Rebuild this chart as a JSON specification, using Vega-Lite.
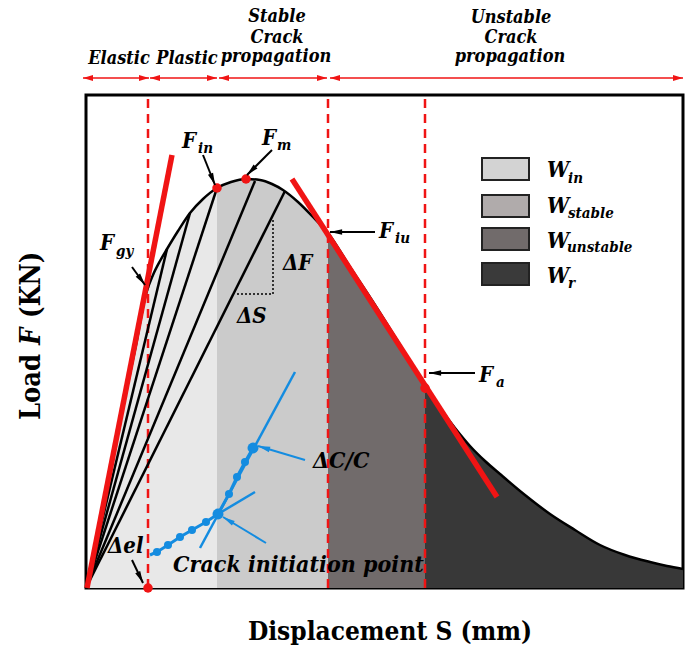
{
"$schema":"https://vega.github.io/schema/vega-lite/v6.json",
"width":597,"height":493,
"autosize":{"type":"none"},
"padding":{"left":86,"top":95,"right":6,"bottom":61},
"background":"#ffffff",
"config":{"view":{"stroke":"#000000","strokeWidth":3},"text":{"font":"DejaVu Serif Condensed"}},
"datasets":{
"curve":[{"s":0,"f":0},{"s":18,"f":88},{"s":36,"f":176},{"s":50,"f":243},{"s":60,"f":294},{"s":67,"f":313},{"s":74,"f":327},{"s":81,"f":339},{"s":92,"f":357},{"s":104,"f":375},{"s":117,"f":389},{"s":131,"f":400},{"s":145,"f":406},{"s":160,"f":409},{"s":174,"f":408},{"s":186,"f":404},{"s":197,"f":398},{"s":212,"f":386},{"s":227,"f":371},{"s":242,"f":355},{"s":264,"f":321},{"s":289,"f":283},{"s":314,"f":243},{"s":339,"f":202},{"s":354,"f":180},{"s":369,"f":160},{"s":384,"f":142},{"s":399,"f":127},{"s":414,"f":114},{"s":439,"f":93},{"s":464,"f":74},{"s":489,"f":58},{"s":514,"f":43},{"s":539,"f":33},{"s":564,"f":26},{"s":581,"f":22},{"s":597,"f":19}],
"unload":[{"s":0,"f":0,"s2":81,"f2":339},{"s":0,"f":0,"s2":104,"f2":375},{"s":0,"f":0,"s2":131,"f2":400},{"s":0,"f":0,"s2":169,"f2":407},{"s":0,"f":0,"s2":199,"f2":397}],
"tangents":[{"s":1,"f":0,"s2":86,"f2":433},{"s":206,"f":409,"s2":411,"f2":91}],
"bounds":[{"s":62,"f":0,"s2":62,"f2":493},{"s":242,"f":0,"s2":242,"f2":493},{"s":339,"f":0,"s2":339,"f2":493}],
"guides":[{"s":187,"f":368,"s2":187,"f2":294},{"s":151,"f":294,"s2":187,"f2":294}],
"cracklines":[{"s":114,"f":40,"s2":209,"f2":216},{"s":132,"f":74,"s2":169,"f2":96}],
"crackpath":[{"s":64,"f":33},{"s":71,"f":36},{"s":82,"f":43},{"s":94,"f":51},{"s":106,"f":58},{"s":120,"f":66},{"s":132,"f":74},{"s":143,"f":94},{"s":151,"f":111},{"s":159,"f":126},{"s":167,"f":140}],
"crackdots":[{"s":71,"f":36,"kind":"step"},{"s":82,"f":43,"kind":"step"},{"s":94,"f":51,"kind":"step"},{"s":106,"f":58,"kind":"step"},{"s":120,"f":66,"kind":"step"},{"s":132,"f":74,"kind":"key"},{"s":143,"f":94,"kind":"step"},{"s":151,"f":111,"kind":"step"},{"s":159,"f":126,"kind":"step"},{"s":167,"f":140,"kind":"key"}],
"reddots":[{"s":131,"f":400},{"s":160,"f":409},{"s":339,"f":200},{"s":62,"f":0}],
"arrows":[{"s":117,"f":433,"s2":129,"f2":403,"ink":"black"},{"s":186,"f":438,"s2":161,"f2":413,"ink":"black"},{"s":46,"f":321,"s2":59,"f2":303,"ink":"black"},{"s":289,"f":356,"s2":244,"f2":356,"ink":"black"},{"s":389,"f":215,"s2":343,"f2":215,"ink":"black"},{"s":46,"f":28,"s2":57,"f2":5,"ink":"black"},{"s":219,"f":128,"s2":172,"f2":142,"ink":"blue"},{"s":180,"f":45,"s2":137,"f2":71,"ink":"blue"}],
"heads":[{"s":126.8,"f":408.6,"heading":158,"ink":"black"},{"s":165.2,"f":417.2,"heading":225,"ink":"black"},{"s":55.5,"f":307.9,"heading":144,"ink":"black"},{"s":250,"f":356,"heading":270,"ink":"black"},{"s":349,"f":215,"heading":270,"ink":"black"},{"s":54.4,"f":10.4,"heading":154,"ink":"black"},{"s":177.8,"f":140.3,"heading":287,"ink":"blue"},{"s":142.1,"f":67.9,"heading":301,"ink":"blue"}],
"phaseArrows":[{"s":-3,"f":510,"s2":63,"f2":510},{"s":64,"f":510,"s2":131,"f2":510},{"s":133,"f":510,"s2":241,"f2":510},{"s":244,"f":510,"s2":597,"f2":510}],
"phaseHeads":[{"s":2,"f":510,"heading":270},{"s":58,"f":510,"heading":90},{"s":69,"f":510,"heading":270},{"s":126,"f":510,"heading":90},{"s":138,"f":510,"heading":270},{"s":236,"f":510,"heading":90},{"s":249,"f":510,"heading":270},{"s":592,"f":510,"heading":90}],
"phaseText":[{"t":"Elastic","s":33,"f":524},{"t":"Plastic","s":101,"f":524},{"t":"Stable","s":191,"f":566},{"t":"Crack","s":191,"f":545},{"t":"propagation","s":190,"f":526},{"t":"Unstable","s":425,"f":565},{"t":"Crack","s":425,"f":545},{"t":"propagation","s":424,"f":526}],
"bigLabels":[{"t":"F","s":96,"f":440},{"t":"F","s":176,"f":443},{"t":"F","s":14,"f":338},{"t":"F","s":293,"f":350},{"t":"F","s":393,"f":206},{"t":"ΔF","s":197,"f":318},{"t":"ΔS","s":151,"f":265},{"t":"Δel","s":22,"f":35},{"t":"W","s":461,"f":411},{"t":"W","s":461,"f":375},{"t":"W","s":461,"f":340},{"t":"W","s":461,"f":305}],
"subLabels":[{"t":"in","s":112,"f":435},{"t":"m","s":191,"f":438},{"t":"gy","s":30,"f":332},{"t":"iu","s":309,"f":345},{"t":"a","s":410,"f":201},{"t":"in","s":482,"f":405},{"t":"stable","s":482,"f":370},{"t":"unstable","s":481,"f":336},{"t":"r","s":482,"f":300}],
"notes":[{"t":"ΔC/C","s":227,"f":120},{"t":"Crack initiation point","s":87,"f":16}],
"legendBoxes":[{"s":396,"s2":443,"f":408,"f2":430,"zone":"in"},{"s":396,"s2":443,"f":371,"f2":393,"zone":"stable"},{"s":396,"s2":443,"f":338,"f2":360,"zone":"unstable"},{"s":396,"s2":443,"f":303,"f2":325,"zone":"r"}],
"xTitle":[{"t":"Displacement S (mm)","s":304,"f":-52}],
"yTitlePlain":[{"t":"Load","s":-54,"f":168},{"t":"(KN)","s":-54,"f":270}],
"yTitleItalic":[{"t":"F","s":-54,"f":243}]
},
"encoding":{
"x":{"field":"s","type":"quantitative","scale":{"domain":[0,597],"nice":false,"zero":false},"axis":null},
"y":{"field":"f","type":"quantitative","scale":{"domain":[0,493],"nice":false,"zero":false},"axis":null}
},
"layer":[
{"data":{"name":"curve"},"transform":[{"filter":"datum.s <= 131"}],"mark":{"type":"area","interpolate":"monotone","color":"#e8e8e8"}},
{"data":{"name":"curve"},"transform":[{"filter":"datum.s >= 131 && datum.s <= 242"}],"mark":{"type":"area","interpolate":"monotone","color":"#cbcbcb"}},
{"data":{"name":"curve"},"transform":[{"filter":"datum.s >= 242 && datum.s <= 339"}],"mark":{"type":"area","interpolate":"monotone","color":"#716b6b"}},
{"data":{"name":"curve"},"transform":[{"filter":"datum.s >= 339"}],"mark":{"type":"area","interpolate":"monotone","color":"#383838"}},
{"data":{"name":"bounds"},"mark":{"type":"rule","color":"#f01414","strokeWidth":2.5,"strokeDash":[9,6]},"encoding":{"x2":{"field":"s2"},"y2":{"field":"f2"}}},
{"data":{"name":"unload"},"mark":{"type":"rule","color":"#000000","strokeWidth":2.5},"encoding":{"x2":{"field":"s2"},"y2":{"field":"f2"}}},
{"data":{"name":"curve"},"mark":{"type":"line","interpolate":"monotone","color":"#000000","strokeWidth":2.5}},
{"data":{"name":"guides"},"mark":{"type":"rule","color":"#000000","strokeWidth":1.5,"strokeDash":[2,2]},"encoding":{"x2":{"field":"s2"},"y2":{"field":"f2"}}},
{"data":{"name":"tangents"},"mark":{"type":"rule","color":"#f01414","strokeWidth":5.5},"encoding":{"x2":{"field":"s2"},"y2":{"field":"f2"}}},
{"data":{"name":"cracklines"},"mark":{"type":"rule","color":"#148ce0","strokeWidth":2.5},"encoding":{"x2":{"field":"s2"},"y2":{"field":"f2"}}},
{"data":{"name":"crackpath"},"mark":{"type":"line","color":"#148ce0","strokeWidth":3}},
{"data":{"name":"crackdots"},"mark":{"type":"point","filled":true,"color":"#148ce0","opacity":1},"encoding":{"size":{"field":"kind","type":"nominal","scale":{"domain":["step","key"],"range":[65,120]},"legend":null}}},
{"data":{"name":"reddots"},"mark":{"type":"point","filled":true,"color":"#f01414","size":90,"opacity":1}},
{"data":{"name":"arrows"},"mark":{"type":"rule","strokeWidth":2},"encoding":{"x2":{"field":"s2"},"y2":{"field":"f2"},"color":{"field":"ink","type":"nominal","scale":{"domain":["black","blue"],"range":["#000000","#148ce0"]},"legend":null}}},
{"data":{"name":"heads"},"mark":{"type":"point","filled":true,"shape":"M0,-1L0.45,1L-0.45,1Z","size":150,"opacity":1},"encoding":{"angle":{"field":"heading","type":"quantitative","scale":null},"color":{"field":"ink","type":"nominal","scale":{"domain":["black","blue"],"range":["#000000","#148ce0"]},"legend":null}}},
{"data":{"name":"phaseArrows"},"mark":{"type":"rule","color":"#f01414","strokeWidth":1.5},"encoding":{"x2":{"field":"s2"},"y2":{"field":"f2"}}},
{"data":{"name":"phaseHeads"},"mark":{"type":"point","filled":true,"shape":"M0,-1L0.6,1L-0.6,1Z","size":100,"color":"#f01414","opacity":1},"encoding":{"angle":{"field":"heading","type":"quantitative","scale":null}}},
{"data":{"name":"phaseText"},"mark":{"type":"text","fontSize":18,"fontWeight":"bold","fontStyle":"italic","align":"center","baseline":"alphabetic","color":"#000000"},"encoding":{"text":{"field":"t"}}},
{"data":{"name":"bigLabels"},"mark":{"type":"text","fontSize":22,"fontWeight":"bold","fontStyle":"italic","align":"left","baseline":"alphabetic","color":"#000000"},"encoding":{"text":{"field":"t"}}},
{"data":{"name":"subLabels"},"mark":{"type":"text","fontSize":15,"fontWeight":"bold","fontStyle":"italic","align":"left","baseline":"alphabetic","color":"#000000"},"encoding":{"text":{"field":"t"}}},
{"data":{"name":"notes"},"mark":{"type":"text","fontSize":23,"fontWeight":"bold","fontStyle":"italic","align":"left","baseline":"alphabetic","color":"#000000"},"encoding":{"text":{"field":"t"}}},
{"data":{"name":"legendBoxes"},"mark":{"type":"rect","stroke":"#222222","strokeWidth":2},"encoding":{"x2":{"field":"s2"},"y2":{"field":"f2"},"fill":{"field":"zone","type":"nominal","scale":{"domain":["in","stable","unstable","r"],"range":["#d3d3d3","#b0abab","#716b6b","#3a3a3a"]},"legend":null}}},
{"data":{"name":"xTitle"},"mark":{"type":"text","fontSize":26,"fontWeight":"bold","align":"center","baseline":"alphabetic","color":"#000000"},"encoding":{"text":{"field":"t"}}},
{"data":{"name":"yTitlePlain"},"mark":{"type":"text","fontSize":27,"fontWeight":"bold","align":"left","baseline":"middle","angle":270,"color":"#000000"},"encoding":{"text":{"field":"t"}}},
{"data":{"name":"yTitleItalic"},"mark":{"type":"text","fontSize":27,"fontWeight":"bold","fontStyle":"italic","align":"left","baseline":"middle","angle":270,"color":"#000000"},"encoding":{"text":{"field":"t"}}}
]
}
